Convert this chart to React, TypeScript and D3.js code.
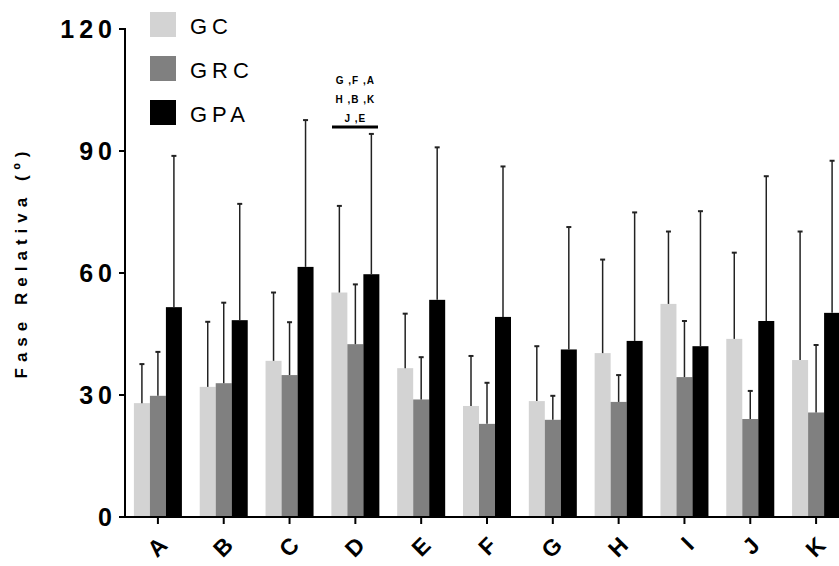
import React from "react";
import * as d3 from "d3";

const categories = ["A", "B", "C", "D", "E", "F", "G", "H", "I", "J", "K"];
const seriesNames = ["GC", "GRC", "GPA"];
const gcMean = [28.0, 32.0, 38.4, 55.2, 36.6, 27.3, 28.5, 40.3, 52.4, 43.8, 38.6];
const gcUpper = [37.6, 48.0, 55.2, 76.5, 50.0, 39.6, 42.0, 63.3, 70.2, 65.0, 70.2];
const grcMean = [29.8, 32.9, 34.9, 42.5, 28.9, 22.9, 23.9, 28.3, 34.4, 24.1, 25.7];
const grcUpper = [40.6, 52.7, 47.9, 57.2, 39.3, 33.0, 29.8, 34.9, 48.2, 31.0, 42.3];
const gpaMean = [51.6, 48.4, 61.5, 59.7, 53.4, 49.2, 41.2, 43.3, 42.0, 48.2, 50.2];
const gpaUpper = [88.8, 77.0, 97.6, 94.2, 90.9, 86.2, 71.3, 74.9, 75.2, 83.8, 87.6];
const yTicks = [0, 30, 60, 90, 120];
const annotationLines = ["G ,F ,A", "H ,B ,K", "J ,E"];
const colors = ["#d3d3d3", "#808080", "#000000"];

export default function App() {
  const W = 839, H = 566;
  const x0 = 125, y0 = 517;
  const x = d3.scaleBand<string>().domain(categories).range([125, 849]).padding(0);
  const y = d3.scaleLinear().domain([0, 120]).range([y0, 29]);
  const barW = 16;
  const means = [gcMean, grcMean, gpaMean];
  const uppers = [gcUpper, grcUpper, gpaUpper];
  const center = (c: string) => (x(c) as number) + x.bandwidth() / 2;

  return (
    <svg width={W} height={H} style={{ position: "absolute", left: 0, top: 0, background: "#fff" }}
      fontFamily="'Liberation Sans', Arial, sans-serif">
      {/* bars */}
      {categories.map((c, i) =>
        means.map((m, s) => {
          const left = center(c) - 24 + s * barW;
          return (
            <rect key={c + s} x={left} y={y(m[i])} width={barW} height={y0 - y(m[i])} fill={colors[s]} />
          );
        })
      )}
      {/* error bars */}
      {categories.map((c, i) =>
        uppers.map((u, s) => {
          const cx = center(c) - 16 + s * barW;
          return (
            <g key={"e" + c + s} stroke="#222">
              <line x1={cx} x2={cx} y1={y(means[s][i])} y2={y(u[i])} strokeWidth={1.5} />
              <line x1={cx - 2.5} x2={cx + 2.5} y1={y(u[i])} y2={y(u[i])} strokeWidth={2} />
            </g>
          );
        })
      )}
      {/* y axis */}
      <line x1={x0} x2={x0} y1={y(120) - 1} y2={y0 + 1} stroke="#000" strokeWidth={2} />
      {yTicks.map((t) => (
        <g key={t}>
          <line x1={x0 - 6} x2={x0} y1={y(t)} y2={y(t)} stroke="#000" strokeWidth={2} />
          <text x={117} y={y(t)} dy="0.36em" textAnchor="end" fontSize={25} fontWeight="bold" letterSpacing={5}>
            {t}
          </text>
        </g>
      ))}
      {/* x axis */}
      <line x1={x0 - 1} x2={W} y1={y0} y2={y0} stroke="#000" strokeWidth={2} />
      {categories.map((c) => (
        <g key={"x" + c}>
          <line x1={center(c)} x2={center(c)} y1={y0} y2={y0 + 7} stroke="#000" strokeWidth={2} />
          <g transform={`translate(${center(c) + 5},${y0 + 24})`}>
            <g transform="rotate(-45)">
              <text x={0} y={0} dy="0.36em" textAnchor="end" fontSize={23} fontWeight="bold">
                {c}
              </text>
            </g>
          </g>
        </g>
      ))}
      {/* y label */}
      <g transform="translate(27,262)">
        <g transform="rotate(-90)">
          <text x={0} y={0} textAnchor="middle" fontSize={17} fontWeight="bold" letterSpacing={6}>
            Fase Relativa (º)
          </text>
        </g>
      </g>
      {/* legend */}
      {seriesNames.map((n, s) => (
        <g key={n}>
          <rect x={150} y={12 + s * 44} width={26} height={25} fill={colors[s]} />
          <text x={190} y={34 + s * 44} fontSize={22} letterSpacing={5}>{n}</text>
        </g>
      ))}
      {/* annotation */}
      {annotationLines.map((l, k) => (
        <text key={l} x={center("D")} y={84 + k * 18.8} textAnchor="middle" fontSize={10} fontWeight="bold" letterSpacing={1}>
          {l}
        </text>
      ))}
      <line x1={332} x2={378} y1={127} y2={127} stroke="#000" strokeWidth={3} />
    </svg>
  );
}
